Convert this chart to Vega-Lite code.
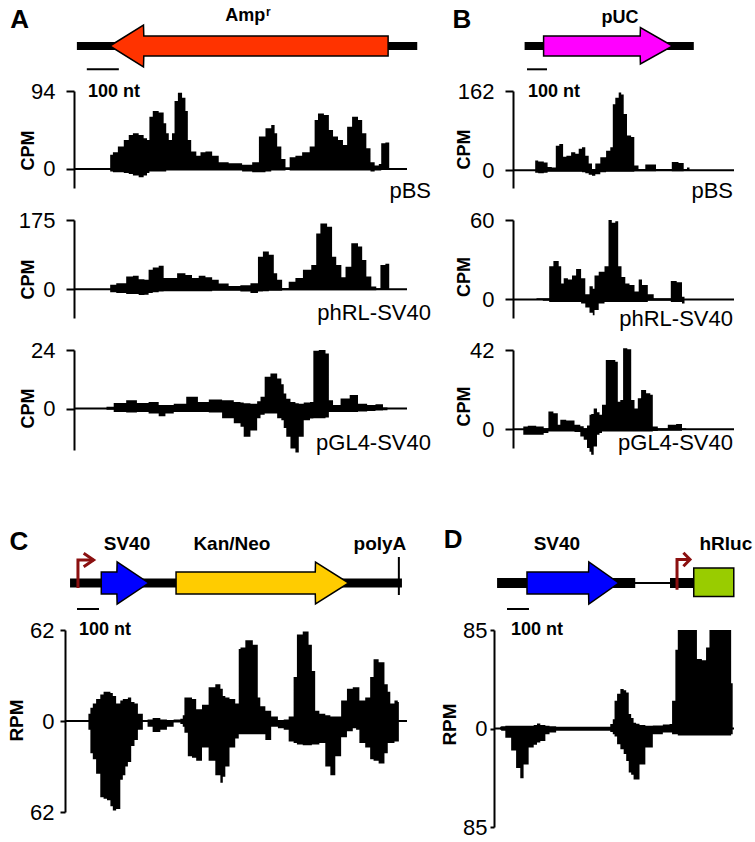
{
"$schema":"https://vega.github.io/schema/vega-lite/v6.json",
"padding":{"left":7,"top":0,"right":0,"bottom":0},
"background":"white",
"columns":2,
"spacing":{"row":32,"column":106},
"align":"each",
"bounds":"flush",
"config":{
 "view":{"stroke":null},
 "text":{"font":"Liberation Sans","color":"black"},
 "area":{"interpolate":"step"},
 "axis":{"grid":false,"domainColor":"black","domainWidth":2,"tickColor":"black","tickWidth":2,"tickSize":8,"labelPadding":11,"labelFont":"Liberation Sans","labelFontSize":22,"labelColor":"black","labelFlush":false,"labelOverlap":false,"titleFont":"Liberation Sans","titleFontSize":18,"titleFontWeight":"bold","titleColor":"black","titleAngle":270,"titleAlign":"center","titleBaseline":"middle"}
},
"datasets":{
 "diag":[
  {"p":"A","k":"bb","x":9,"x2":1072,"y":0},
  {"p":"A","k":"arrow","f":"Amp","x":112,"y":0,"y2":0},
  {"p":"A","k":"arrow","f":"Amp","x":217,"y":2.1,"y2":-2.1},
  {"p":"A","k":"arrow","f":"Amp","x":218,"y":1,"y2":-1},
  {"p":"A","k":"arrow","f":"Amp","x":981,"y":1,"y2":-1},
  {"p":"A","k":"gene","label":"Amp","x":535,"y":2.53},
  {"p":"A","k":"sup","label":"r","x":600,"y":3.05},
  {"p":"A","k":"letter","label":"A","x":-170,"y":1.85},
  {"p":"A","k":"bar","x":40,"x2":140,"y":-2.33},
  {"p":"A","k":"nt","label":"100 nt","x":44,"y":-5.07},
  {"p":"B","k":"bb","x":58,"x2":904,"y":0},
  {"p":"B","k":"arrow","f":"pUC","x":153,"y":1,"y2":-1},
  {"p":"B","k":"arrow","f":"pUC","x":636,"y":1,"y2":-1},
  {"p":"B","k":"arrow","f":"pUC","x":637,"y":1.85,"y2":-1.8},
  {"p":"B","k":"arrow","f":"pUC","x":798,"y":0,"y2":0},
  {"p":"B","k":"gene","label":"pUC","x":535,"y":2.27},
  {"p":"B","k":"letter","label":"B","x":-255,"y":1.85},
  {"p":"B","k":"bar","x":70,"x2":170,"y":-2.33},
  {"p":"B","k":"nt","label":"100 nt","x":75,"y":-5.07},
  {"p":"C","k":"bb","x":-18,"x2":1491,"y":0},
  {"p":"C","k":"arrow","f":"SV40","x":124,"y":1.1,"y2":-1.1},
  {"p":"C","k":"arrow","f":"SV40","x":195,"y":1.1,"y2":-1.1},
  {"p":"C","k":"arrow","f":"SV40","x":196,"y":2.1,"y2":-2.1},
  {"p":"C","k":"arrow","f":"SV40","x":339.5,"y":0,"y2":0},
  {"p":"C","k":"arrow","f":"Kan","x":464,"y":1.1,"y2":-1.1},
  {"p":"C","k":"arrow","f":"Kan","x":1097,"y":1.1,"y2":-1.1},
  {"p":"C","k":"arrow","f":"Kan","x":1098,"y":2.1,"y2":-2.1},
  {"p":"C","k":"arrow","f":"Kan","x":1249,"y":0,"y2":0},
  {"p":"C","k":"tick","x":1477,"y":2.6,"y2":-1.2},
  {"p":"C","k":"prom","g":"s","o":1,"x":18,"y":-0.5},
  {"p":"C","k":"prom","g":"s","o":2,"x":18,"y":2.3},
  {"p":"C","k":"prom","g":"s","o":3,"x":89,"y":2.3},
  {"p":"C","k":"prom","g":"h","o":1,"x":44,"y":2.97},
  {"p":"C","k":"prom","g":"h","o":2,"x":89,"y":2.3},
  {"p":"C","k":"prom","g":"h","o":3,"x":44,"y":1.63},
  {"p":"C","k":"gene","label":"SV40","x":241,"y":3.3},
  {"p":"C","k":"gene","label":"Kan/Neo","x":718,"y":3.3},
  {"p":"C","k":"gene","label":"polyA","x":1391,"y":3.3},
  {"p":"C","k":"letter","label":"C","x":-250,"y":3.3},
  {"p":"C","k":"bar","x":13.6,"x2":113.6,"y":-2.6},
  {"p":"C","k":"nt","label":"100 nt","x":23,"y":-5.2},
  {"p":"D","k":"bb","x":14,"x2":642,"y":0},
  {"p":"D","k":"bb","x":800,"x2":908,"y":0},
  {"p":"D","k":"thin","x":641,"x2":801,"y":0},
  {"p":"D","k":"arrow","f":"SV40","x":150,"y":1.1,"y2":-1.1},
  {"p":"D","k":"arrow","f":"SV40","x":430,"y":1.1,"y2":-1.1},
  {"p":"D","k":"arrow","f":"SV40","x":431,"y":2.1,"y2":-2.1},
  {"p":"D","k":"arrow","f":"SV40","x":567,"y":0,"y2":0},
  {"p":"D","k":"box","x":908,"x2":1090,"y":1.5,"y2":-1.35},
  {"p":"D","k":"prom","g":"s","o":1,"x":832,"y":-0.67},
  {"p":"D","k":"prom","g":"s","o":2,"x":832,"y":2.35},
  {"p":"D","k":"prom","g":"s","o":3,"x":891,"y":2.35},
  {"p":"D","k":"prom","g":"h","o":1,"x":861,"y":3.02},
  {"p":"D","k":"prom","g":"h","o":2,"x":891,"y":2.35},
  {"p":"D","k":"prom","g":"h","o":3,"x":861,"y":1.68},
  {"p":"D","k":"gene","label":"SV40","x":286,"y":3.33},
  {"p":"D","k":"gene","label":"hRluc","x":1054,"y":3.33},
  {"p":"D","k":"letter","label":"D","x":-186,"y":3.5},
  {"p":"D","k":"bar","x":59,"x2":159,"y":-2.6},
  {"p":"D","k":"nt","label":"100 nt","x":77,"y":-5.2}
 ],
 "tz":[
  {"t":"A1","x":0,"x2":1040,"y":0},{"t":"A2","x":0,"x2":1040,"y":0},{"t":"A3","x":0,"x2":1040,"y":0},
  {"t":"B1","x":0,"x2":1105,"y":0},{"t":"B2","x":0,"x2":1105,"y":0},{"t":"B3","x":0,"x2":1105,"y":0},
  {"t":"C","x":-41,"x2":1514,"y":0},{"t":"D","x":0,"x2":1091,"y":0}
 ],
 "tl":[
  {"t":"A1","label":"pBS","x":1115,"y":-34.5},
  {"t":"A2","label":"phRL-SV40","x":1115,"y":-76.9},
  {"t":"A3","label":"pGL4-SV40","x":1115,"y":-17},
  {"t":"B1","label":"pBS","x":1100,"y":-55.4},
  {"t":"B2","label":"phRL-SV40","x":1100,"y":-20},
  {"t":"B3","label":"pGL4-SV40","x":1100,"y":-10.8}
 ],
 "cov":[
  {"t":"A1","x":112,"y":0,"m":0},{"t":"A1","x":114,"y":17,"m":-3},{"t":"A1","x":129,"y":20,"m":-4},{"t":"A1","x":145,"y":27,"m":-4},{"t":"A1","x":166,"y":35,"m":-5},{"t":"A1","x":176,"y":41,"m":-6},{"t":"A1","x":192,"y":43,"m":-8},{"t":"A1","x":212,"y":41,"m":-10},{"t":"A1","x":223,"y":37,"m":-8},{"t":"A1","x":233,"y":35,"m":-5},{"t":"A1","x":238,"y":63,"m":-3},{"t":"A1","x":254,"y":70,"m":-3},{"t":"A1","x":275,"y":68,"m":-3},{"t":"A1","x":285,"y":55,"m":-3},{"t":"A1","x":291,"y":43,"m":-2},{"t":"A1","x":301,"y":35,"m":-2},{"t":"A1","x":311,"y":43,"m":-2},{"t":"A1","x":317,"y":82,"m":-2},{"t":"A1","x":332,"y":92,"m":-2},{"t":"A1","x":343,"y":86,"m":-2},{"t":"A1","x":353,"y":70,"m":-2},{"t":"A1","x":358,"y":35,"m":-2},{"t":"A1","x":374,"y":21,"m":-2},{"t":"A1","x":390,"y":16,"m":-2},{"t":"A1","x":400,"y":20,"m":-2},{"t":"A1","x":421,"y":21,"m":-2},{"t":"A1","x":442,"y":16,"m":-2},{"t":"A1","x":462,"y":8,"m":-2},{"t":"A1","x":504,"y":7,"m":-2},{"t":"A1","x":546,"y":5,"m":-3},{"t":"A1","x":567,"y":8,"m":-4},{"t":"A1","x":588,"y":39,"m":-4},{"t":"A1","x":608,"y":49,"m":-3},{"t":"A1","x":624,"y":53,"m":-2},{"t":"A1","x":629,"y":43,"m":-2},{"t":"A1","x":640,"y":27,"m":-2},{"t":"A1","x":655,"y":12,"m":-2},{"t":"A1","x":666,"y":2,"m":-1},{"t":"A1","x":681,"y":14,"m":-2},{"t":"A1","x":702,"y":16,"m":-2},{"t":"A1","x":723,"y":20,"m":-2},{"t":"A1","x":749,"y":27,"m":-2},{"t":"A1","x":754,"y":59,"m":-2},{"t":"A1","x":770,"y":67,"m":-2},{"t":"A1","x":791,"y":65,"m":-2},{"t":"A1","x":801,"y":47,"m":-2},{"t":"A1","x":817,"y":39,"m":-2},{"t":"A1","x":832,"y":35,"m":-2},{"t":"A1","x":848,"y":29,"m":-2},{"t":"A1","x":858,"y":51,"m":-2},{"t":"A1","x":879,"y":63,"m":-2},{"t":"A1","x":895,"y":59,"m":-2},{"t":"A1","x":905,"y":43,"m":-2},{"t":"A1","x":921,"y":25,"m":-2},{"t":"A1","x":931,"y":8,"m":-3},{"t":"A1","x":947,"y":4,"m":-2},{"t":"A1","x":957,"y":6,"m":-2},{"t":"A1","x":962,"y":31,"m":-1},{"t":"A1","x":983,"y":32,"m":-1},{"t":"A1","x":986,"y":0,"m":0},
  {"t":"B1","x":110,"y":0,"m":0},{"t":"B1","x":112,"y":20,"m":-5},{"t":"B1","x":140,"y":18,"m":-6},{"t":"B1","x":168,"y":16,"m":-5},{"t":"B1","x":178,"y":7,"m":-3},{"t":"B1","x":210,"y":6,"m":-3},{"t":"B1","x":218,"y":50,"m":-3},{"t":"B1","x":245,"y":54,"m":-3},{"t":"B1","x":256,"y":28,"m":-3},{"t":"B1","x":278,"y":30,"m":-3},{"t":"B1","x":303,"y":37,"m":-3},{"t":"B1","x":320,"y":34,"m":-3},{"t":"B1","x":337,"y":44,"m":-3},{"t":"B1","x":353,"y":47,"m":-4},{"t":"B1","x":370,"y":30,"m":-6},{"t":"B1","x":387,"y":14,"m":-9},{"t":"B1","x":403,"y":3,"m":-11},{"t":"B1","x":420,"y":14,"m":-8},{"t":"B1","x":453,"y":27,"m":-4},{"t":"B1","x":478,"y":40,"m":-3},{"t":"B1","x":495,"y":47,"m":-3},{"t":"B1","x":503,"y":135,"m":-3},{"t":"B1","x":520,"y":148,"m":-3},{"t":"B1","x":537,"y":159,"m":-3},{"t":"B1","x":545,"y":155,"m":-3},{"t":"B1","x":562,"y":115,"m":-3},{"t":"B1","x":578,"y":71,"m":-3},{"t":"B1","x":603,"y":68,"m":-3},{"t":"B1","x":610,"y":10,"m":-2},{"t":"B1","x":645,"y":3,"m":-2},{"t":"B1","x":678,"y":12,"m":-2},{"t":"B1","x":710,"y":12,"m":-2},{"t":"B1","x":720,"y":3,"m":-1},{"t":"B1","x":778,"y":3,"m":-1},{"t":"B1","x":810,"y":17,"m":-2},{"t":"B1","x":845,"y":15,"m":-2},{"t":"B1","x":862,"y":3,"m":-1},{"t":"B1","x":878,"y":6,"m":-1},{"t":"B1","x":887,"y":0,"m":0},
  {"t":"A2","x":112,"y":0,"m":0},{"t":"A2","x":114,"y":11,"m":-8},{"t":"A2","x":150,"y":15,"m":-10},{"t":"A2","x":176,"y":32,"m":-12},{"t":"A2","x":192,"y":34,"m":-12},{"t":"A2","x":212,"y":25,"m":-15},{"t":"A2","x":228,"y":24,"m":-14},{"t":"A2","x":238,"y":49,"m":-10},{"t":"A2","x":254,"y":55,"m":-8},{"t":"A2","x":275,"y":59,"m":-6},{"t":"A2","x":285,"y":28,"m":-5},{"t":"A2","x":306,"y":28,"m":-5},{"t":"A2","x":338,"y":40,"m":-5},{"t":"A2","x":358,"y":36,"m":-5},{"t":"A2","x":379,"y":28,"m":-5},{"t":"A2","x":400,"y":34,"m":-5},{"t":"A2","x":421,"y":30,"m":-5},{"t":"A2","x":442,"y":24,"m":-4},{"t":"A2","x":462,"y":14,"m":-4},{"t":"A2","x":504,"y":8,"m":-4},{"t":"A2","x":535,"y":10,"m":-6},{"t":"A2","x":567,"y":15,"m":-10},{"t":"A2","x":582,"y":82,"m":-6},{"t":"A2","x":598,"y":95,"m":-5},{"t":"A2","x":619,"y":87,"m":-4},{"t":"A2","x":629,"y":40,"m":-4},{"t":"A2","x":640,"y":24,"m":-4},{"t":"A2","x":660,"y":3,"m":-3},{"t":"A2","x":681,"y":19,"m":-3},{"t":"A2","x":702,"y":28,"m":-3},{"t":"A2","x":728,"y":49,"m":-3},{"t":"A2","x":754,"y":61,"m":-3},{"t":"A2","x":759,"y":141,"m":-3},{"t":"A2","x":780,"y":166,"m":-3},{"t":"A2","x":801,"y":158,"m":-3},{"t":"A2","x":811,"y":82,"m":-3},{"t":"A2","x":827,"y":61,"m":-3},{"t":"A2","x":843,"y":30,"m":-3},{"t":"A2","x":853,"y":57,"m":-3},{"t":"A2","x":879,"y":116,"m":-3},{"t":"A2","x":895,"y":108,"m":-3},{"t":"A2","x":905,"y":74,"m":-3},{"t":"A2","x":921,"y":32,"m":-3},{"t":"A2","x":936,"y":7,"m":-3},{"t":"A2","x":952,"y":2,"m":-2},{"t":"A2","x":962,"y":61,"m":-2},{"t":"A2","x":983,"y":64,"m":-2},{"t":"A2","x":986,"y":0,"m":0},
  {"t":"B2","x":115,"y":0,"m":0},{"t":"B2","x":120,"y":1,"m":0},{"t":"B2","x":178,"y":1,"m":-1},{"t":"B2","x":184,"y":25,"m":-2},{"t":"B2","x":220,"y":29,"m":-2},{"t":"B2","x":237,"y":25,"m":-2},{"t":"B2","x":245,"y":12,"m":-2},{"t":"B2","x":262,"y":16,"m":-2},{"t":"B2","x":287,"y":15,"m":-2},{"t":"B2","x":303,"y":18,"m":-2},{"t":"B2","x":328,"y":23,"m":-2},{"t":"B2","x":353,"y":16,"m":-3},{"t":"B2","x":370,"y":4,"m":-6},{"t":"B2","x":395,"y":10,"m":-10},{"t":"B2","x":403,"y":8,"m":-12},{"t":"B2","x":412,"y":18,"m":-8},{"t":"B2","x":445,"y":21,"m":-3},{"t":"B2","x":470,"y":25,"m":-2},{"t":"B2","x":485,"y":60,"m":-2},{"t":"B2","x":503,"y":58,"m":-2},{"t":"B2","x":520,"y":59,"m":-2},{"t":"B2","x":532,"y":25,"m":-2},{"t":"B2","x":553,"y":17,"m":-2},{"t":"B2","x":570,"y":12,"m":-2},{"t":"B2","x":595,"y":11,"m":-2},{"t":"B2","x":620,"y":6,"m":-2},{"t":"B2","x":637,"y":15,"m":-2},{"t":"B2","x":653,"y":11,"m":-2},{"t":"B2","x":695,"y":4,"m":-1},{"t":"B2","x":712,"y":1,"m":-1},{"t":"B2","x":778,"y":1,"m":-1},{"t":"B2","x":800,"y":14,"m":-2},{"t":"B2","x":837,"y":13,"m":-2},{"t":"B2","x":853,"y":2,"m":-3},{"t":"B2","x":862,"y":0,"m":0},
  {"t":"A3","x":100,"y":0,"m":0},{"t":"A3","x":103,"y":0.7,"m":-0.5},{"t":"A3","x":145,"y":2.3,"m":-1.4},{"t":"A3","x":181,"y":3.4,"m":-1.6},{"t":"A3","x":212,"y":2.3,"m":-1.4},{"t":"A3","x":254,"y":2.7,"m":-2},{"t":"A3","x":275,"y":1.5,"m":-3.2},{"t":"A3","x":296,"y":1.4,"m":-2},{"t":"A3","x":327,"y":2,"m":-1.4},{"t":"A3","x":374,"y":4.8,"m":-1.4},{"t":"A3","x":400,"y":2.7,"m":-1.4},{"t":"A3","x":442,"y":3.7,"m":-1.6},{"t":"A3","x":483,"y":3.4,"m":-4},{"t":"A3","x":515,"y":2.7,"m":-6},{"t":"A3","x":525,"y":2.5,"m":-7.5},{"t":"A3","x":535,"y":2.2,"m":-11.6},{"t":"A3","x":567,"y":2,"m":-9},{"t":"A3","x":577,"y":3,"m":-4},{"t":"A3","x":588,"y":4.8,"m":-2.5},{"t":"A3","x":603,"y":13,"m":-2},{"t":"A3","x":624,"y":14.4,"m":-2},{"t":"A3","x":645,"y":12.3,"m":-4},{"t":"A3","x":650,"y":10,"m":-4.8},{"t":"A3","x":660,"y":6.2,"m":-8},{"t":"A3","x":666,"y":4,"m":-11.6},{"t":"A3","x":686,"y":2.7,"m":-16.4},{"t":"A3","x":697,"y":2.2,"m":-18},{"t":"A3","x":707,"y":2,"m":-11.6},{"t":"A3","x":728,"y":2.5,"m":-4.8},{"t":"A3","x":746,"y":2.7,"m":-4.1},{"t":"A3","x":749,"y":23.7,"m":-4},{"t":"A3","x":780,"y":24,"m":-4},{"t":"A3","x":791,"y":22.6,"m":-3.7},{"t":"A3","x":801,"y":3.4,"m":-1.4},{"t":"A3","x":817,"y":1.4,"m":-1.4},{"t":"A3","x":848,"y":4.1,"m":-1.4},{"t":"A3","x":874,"y":5.5,"m":-1.4},{"t":"A3","x":900,"y":2,"m":-1.2},{"t":"A3","x":931,"y":1.4,"m":-1},{"t":"A3","x":952,"y":1.8,"m":-0.8},{"t":"A3","x":978,"y":0.4,"m":-0.7},{"t":"A3","x":980,"y":0,"m":0},
  {"t":"B3","x":50,"y":0,"m":0},{"t":"B3","x":53,"y":1.4,"m":-3},{"t":"B3","x":95,"y":1.8,"m":-3},{"t":"B3","x":137,"y":1.4,"m":-3},{"t":"B3","x":170,"y":0.5,"m":-2},{"t":"B3","x":184,"y":9.4,"m":-1.2},{"t":"B3","x":220,"y":8.5,"m":-1.2},{"t":"B3","x":228,"y":2.3,"m":-1.2},{"t":"B3","x":245,"y":5,"m":-1.2},{"t":"B3","x":287,"y":4.6,"m":-1.2},{"t":"B3","x":328,"y":2.3,"m":-1.5},{"t":"B3","x":345,"y":1.5,"m":-3.9},{"t":"B3","x":362,"y":0.5,"m":-5.6},{"t":"B3","x":378,"y":2,"m":-10},{"t":"B3","x":387,"y":7.6,"m":-12},{"t":"B3","x":395,"y":8,"m":-13.6},{"t":"B3","x":412,"y":11,"m":-9.2},{"t":"B3","x":428,"y":9,"m":-3},{"t":"B3","x":437,"y":7.6,"m":-2},{"t":"B3","x":453,"y":12.9,"m":-1.2},{"t":"B3","x":475,"y":36.7,"m":-1.2},{"t":"B3","x":503,"y":36.7,"m":-1.2},{"t":"B3","x":520,"y":35.8,"m":-1.2},{"t":"B3","x":528,"y":14.6,"m":-1.2},{"t":"B3","x":545,"y":15.5,"m":-1.2},{"t":"B3","x":556,"y":42.9,"m":-1.2},{"t":"B3","x":587,"y":42.4,"m":-1.2},{"t":"B3","x":595,"y":15.5,"m":-1.2},{"t":"B3","x":620,"y":11,"m":-1.2},{"t":"B3","x":628,"y":16.4,"m":-1.2},{"t":"B3","x":653,"y":20.8,"m":-1.2},{"t":"B3","x":678,"y":19,"m":-1.2},{"t":"B3","x":695,"y":18.2,"m":-1.2},{"t":"B3","x":703,"y":1.4,"m":-1},{"t":"B3","x":745,"y":0.5,"m":-0.8},{"t":"B3","x":803,"y":2.3,"m":-0.8},{"t":"B3","x":828,"y":2.8,"m":-0.8},{"t":"B3","x":862,"y":0.5,"m":-0.5},{"t":"B3","x":870,"y":0,"m":0},
  {"t":"C","x":64,"y":0,"m":0},{"t":"C","x":67,"y":5,"m":-6},{"t":"C","x":82,"y":9,"m":-22},{"t":"C","x":89,"y":12,"m":-26},{"t":"C","x":112,"y":15,"m":-36},{"t":"C","x":127,"y":18,"m":-52},{"t":"C","x":142,"y":20,"m":-53},{"t":"C","x":158,"y":20,"m":-54},{"t":"C","x":173,"y":19,"m":-58},{"t":"C","x":180,"y":17,"m":-61},{"t":"C","x":203,"y":12,"m":-60},{"t":"C","x":218,"y":14,"m":-40},{"t":"C","x":226,"y":15,"m":-37},{"t":"C","x":241,"y":15,"m":-31},{"t":"C","x":249,"y":16,"m":-28},{"t":"C","x":271,"y":13,"m":-17},{"t":"C","x":279,"y":12,"m":-13},{"t":"C","x":302,"y":5,"m":-6},{"t":"C","x":324,"y":0,"m":0},{"t":"C","x":345,"y":1,"m":-4},{"t":"C","x":370,"y":2,"m":-7.5},{"t":"C","x":415,"y":1,"m":-6},{"t":"C","x":430,"y":0,"m":-4},{"t":"C","x":476,"y":1,"m":-1},{"t":"C","x":491,"y":1.6,"m":-2},{"t":"C","x":498,"y":4,"m":-4},{"t":"C","x":506,"y":16,"m":-8},{"t":"C","x":529,"y":16,"m":-24},{"t":"C","x":544,"y":15,"m":-25},{"t":"C","x":567,"y":8,"m":-27},{"t":"C","x":597,"y":11,"m":-18},{"t":"C","x":627,"y":23,"m":-27},{"t":"C","x":658,"y":25,"m":-37},{"t":"C","x":673,"y":22,"m":-42},{"t":"C","x":680,"y":17,"m":-38},{"t":"C","x":696,"y":16,"m":-31},{"t":"C","x":718,"y":15,"m":-18},{"t":"C","x":748,"y":12,"m":-12},{"t":"C","x":750,"y":49,"m":-9},{"t":"C","x":764,"y":50,"m":-9},{"t":"C","x":794,"y":55,"m":-9},{"t":"C","x":832,"y":52,"m":-9},{"t":"C","x":839,"y":16,"m":-9},{"t":"C","x":855,"y":10,"m":-9},{"t":"C","x":885,"y":7,"m":-13},{"t":"C","x":908,"y":3,"m":-4},{"t":"C","x":946,"y":0.5,"m":-5},{"t":"C","x":961,"y":1,"m":-6},{"t":"C","x":991,"y":3,"m":-14},{"t":"C","x":1006,"y":30,"m":-15},{"t":"C","x":1021,"y":59,"m":-16},{"t":"C","x":1059,"y":61,"m":-16.5},{"t":"C","x":1074,"y":52,"m":-16.5},{"t":"C","x":1089,"y":34,"m":-16},{"t":"C","x":1104,"y":7,"m":-16},{"t":"C","x":1127,"y":5,"m":-15},{"t":"C","x":1158,"y":4,"m":-31},{"t":"C","x":1173,"y":3,"m":-37},{"t":"C","x":1203,"y":3,"m":-24},{"t":"C","x":1226,"y":14,"m":-11},{"t":"C","x":1256,"y":22,"m":-7},{"t":"C","x":1279,"y":23,"m":-5},{"t":"C","x":1286,"y":23,"m":-6},{"t":"C","x":1309,"y":14,"m":-15},{"t":"C","x":1339,"y":16,"m":-18},{"t":"C","x":1354,"y":30,"m":-26},{"t":"C","x":1370,"y":42,"m":-27},{"t":"C","x":1400,"y":40,"m":-29},{"t":"C","x":1423,"y":25,"m":-22},{"t":"C","x":1430,"y":20,"m":-15},{"t":"C","x":1446,"y":12,"m":-15},{"t":"C","x":1468,"y":14,"m":-14},{"t":"C","x":1476,"y":13,"m":-14},{"t":"C","x":1478,"y":0,"m":0},
  {"t":"D","x":27,"y":0,"m":0},{"t":"D","x":29,"y":1.5,"m":-1},{"t":"D","x":36,"y":2,"m":-2},{"t":"D","x":67,"y":2.3,"m":-8},{"t":"D","x":89,"y":2.3,"m":-19},{"t":"D","x":112,"y":2.3,"m":-34},{"t":"D","x":127,"y":2.3,"m":-43},{"t":"D","x":142,"y":2.3,"m":-31},{"t":"D","x":173,"y":2.3,"m":-16.5},{"t":"D","x":188,"y":3,"m":-14},{"t":"D","x":203,"y":4.4,"m":-12},{"t":"D","x":218,"y":3,"m":-10.7},{"t":"D","x":249,"y":2.3,"m":-5},{"t":"D","x":256,"y":2,"m":-3.5},{"t":"D","x":309,"y":1.5,"m":-2},{"t":"D","x":521,"y":1.5,"m":-2},{"t":"D","x":536,"y":3.8,"m":-3},{"t":"D","x":544,"y":8,"m":-5},{"t":"D","x":552,"y":24,"m":-7},{"t":"D","x":567,"y":30,"m":-13.6},{"t":"D","x":582,"y":34,"m":-18},{"t":"D","x":597,"y":33,"m":-22},{"t":"D","x":605,"y":31,"m":-28},{"t":"D","x":620,"y":12.5,"m":-38},{"t":"D","x":627,"y":9,"m":-40},{"t":"D","x":642,"y":5,"m":-44},{"t":"D","x":650,"y":4,"m":-44},{"t":"D","x":673,"y":3,"m":-31},{"t":"D","x":703,"y":2.3,"m":-16.5},{"t":"D","x":741,"y":2.5,"m":-5},{"t":"D","x":794,"y":3.5,"m":-3.5},{"t":"D","x":802,"y":3.8,"m":-3.5},{"t":"D","x":817,"y":24,"m":-5},{"t":"D","x":832,"y":68,"m":-5},{"t":"D","x":839,"y":85,"m":-6},{"t":"D","x":915,"y":85,"m":-6},{"t":"D","x":930,"y":60,"m":-6},{"t":"D","x":960,"y":59,"m":-6},{"t":"D","x":968,"y":70,"m":-6},{"t":"D","x":991,"y":85,"m":-6},{"t":"D","x":1074,"y":85,"m":-6},{"t":"D","x":1082,"y":39,"m":-5},{"t":"D","x":1088,"y":0,"m":0}
 ]
},
"concat":[
 {"width":333,"height":59,"data":{"name":"diag"},"transform":[{"filter":"datum.p=='A'"}],
  "encoding":{"x":{"field":"x","type":"quantitative","scale":{"domain":[0,1040],"nice":false,"zero":false},"axis":null},"y":{"field":"y","type":"quantitative","scale":{"domain":[-1.3,4.6],"nice":false,"zero":false},"axis":null}},
  "layer":[
   {"transform":[{"filter":"datum.k=='bb'"}],"mark":{"type":"rule","color":"black","strokeWidth":8},"encoding":{"x2":{"field":"x2"}}},
   {"transform":[{"filter":"datum.k=='arrow'"}],"mark":{"type":"area","interpolate":"linear","stroke":"black","strokeWidth":1.5,"opacity":1},"encoding":{"y2":{"field":"y2"},"color":{"field":"f","type":"nominal","scale":{"domain":["Amp","pUC","SV40","Kan"],"range":["#FF3300","#FF00FF","#0000FF","#FFCC00"]},"legend":null}}},
   {"transform":[{"filter":"datum.k=='bar'"}],"mark":{"type":"rule","color":"black","strokeWidth":2},"encoding":{"x2":{"field":"x2"}}},
   {"transform":[{"filter":"datum.k=='gene'"}],"mark":{"type":"text","fontSize":18,"fontWeight":"bold","align":"center","baseline":"alphabetic"},"encoding":{"text":{"field":"label"}}},
   {"transform":[{"filter":"datum.k=='sup'"}],"mark":{"type":"text","fontSize":12,"fontWeight":"bold","align":"left","baseline":"alphabetic"},"encoding":{"text":{"field":"label"}}},
   {"transform":[{"filter":"datum.k=='letter'"}],"mark":{"type":"text","fontSize":26,"fontWeight":"bold","align":"center","baseline":"alphabetic"},"encoding":{"text":{"field":"label"}}},
   {"transform":[{"filter":"datum.k=='nt'"}],"mark":{"type":"text","fontSize":18,"fontWeight":"bold","align":"left","baseline":"alphabetic"},"encoding":{"text":{"field":"label"}}}
  ]},
 {"width":221,"height":59,"data":{"name":"diag"},"transform":[{"filter":"datum.p=='B'"}],
  "encoding":{"x":{"field":"x","type":"quantitative","scale":{"domain":[0,1105],"nice":false,"zero":false},"axis":null},"y":{"field":"y","type":"quantitative","scale":{"domain":[-1.3,4.6],"nice":false,"zero":false},"axis":null}},
  "layer":[
   {"transform":[{"filter":"datum.k=='bb'"}],"mark":{"type":"rule","color":"black","strokeWidth":8},"encoding":{"x2":{"field":"x2"}}},
   {"transform":[{"filter":"datum.k=='arrow'"}],"mark":{"type":"area","interpolate":"linear","stroke":"black","strokeWidth":1.5,"opacity":1},"encoding":{"y2":{"field":"y2"},"color":{"field":"f","type":"nominal","scale":{"domain":["Amp","pUC","SV40","Kan"],"range":["#FF3300","#FF00FF","#0000FF","#FFCC00"]},"legend":null}}},
   {"transform":[{"filter":"datum.k=='bar'"}],"mark":{"type":"rule","color":"black","strokeWidth":2},"encoding":{"x2":{"field":"x2"}}},
   {"transform":[{"filter":"datum.k=='gene'"}],"mark":{"type":"text","fontSize":18,"fontWeight":"bold","align":"center","baseline":"alphabetic"},"encoding":{"text":{"field":"label"}}},
   {"transform":[{"filter":"datum.k=='letter'"}],"mark":{"type":"text","fontSize":26,"fontWeight":"bold","align":"center","baseline":"alphabetic"},"encoding":{"text":{"field":"label"}}},
   {"transform":[{"filter":"datum.k=='nt'"}],"mark":{"type":"text","fontSize":18,"fontWeight":"bold","align":"left","baseline":"alphabetic"},"encoding":{"text":{"field":"label"}}}
  ]},
 {"width":333,"height":97,
  "encoding":{"x":{"field":"x","type":"quantitative","scale":{"domain":[0,1040],"nice":false,"zero":false},"axis":null},"y":{"field":"y","type":"quantitative","scale":{"domain":[-23,94],"nice":false,"zero":false},"axis":{"title":"CPM","values":[0,94],"titleX":-45.5,"titleY":59}}},
  "layer":[
   {"data":{"name":"cov"},"transform":[{"filter":"datum.t=='A1'"}],"mark":{"type":"area","color":"black"},"encoding":{"y2":{"field":"m"}}},
   {"data":{"name":"tz"},"transform":[{"filter":"datum.t=='A1'"}],"mark":{"type":"rule","color":"black","strokeWidth":2},"encoding":{"x2":{"field":"x2"}}},
   {"data":{"name":"tl"},"transform":[{"filter":"datum.t=='A1'"}],"mark":{"type":"text","align":"right","baseline":"alphabetic","fontSize":22},"encoding":{"text":{"field":"label"}}}
  ]},
 {"width":221,"height":97,
  "encoding":{"x":{"field":"x","type":"quantitative","scale":{"domain":[0,1105],"nice":false,"zero":false},"axis":null},"y":{"field":"y","type":"quantitative","scale":{"domain":[-36,162],"nice":false,"zero":false},"axis":{"title":"CPM","values":[0,162],"titleX":-48.5,"titleY":58}}},
  "layer":[
   {"data":{"name":"cov"},"transform":[{"filter":"datum.t=='B1'"}],"mark":{"type":"area","color":"black"},"encoding":{"y2":{"field":"m"}}},
   {"data":{"name":"tz"},"transform":[{"filter":"datum.t=='B1'"}],"mark":{"type":"rule","color":"black","strokeWidth":2},"encoding":{"x2":{"field":"x2"}}},
   {"data":{"name":"tl"},"transform":[{"filter":"datum.t=='B1'"}],"mark":{"type":"text","align":"right","baseline":"alphabetic","fontSize":22},"encoding":{"text":{"field":"label"}}}
  ]},
 {"width":333,"height":98,
  "encoding":{"x":{"field":"x","type":"quantitative","scale":{"domain":[0,1040],"nice":false,"zero":false},"axis":null},"y":{"field":"y","type":"quantitative","scale":{"domain":[-73,175],"nice":false,"zero":false},"axis":{"title":"CPM","values":[0,175],"titleX":-45.5,"titleY":59}}},
  "layer":[
   {"data":{"name":"cov"},"transform":[{"filter":"datum.t=='A2'"}],"mark":{"type":"area","color":"black"},"encoding":{"y2":{"field":"m"}}},
   {"data":{"name":"tz"},"transform":[{"filter":"datum.t=='A2'"}],"mark":{"type":"rule","color":"black","strokeWidth":2},"encoding":{"x2":{"field":"x2"}}},
   {"data":{"name":"tl"},"transform":[{"filter":"datum.t=='A2'"}],"mark":{"type":"text","align":"right","baseline":"alphabetic","fontSize":22},"encoding":{"text":{"field":"label"}}}
  ]},
 {"width":221,"height":98,
  "encoding":{"x":{"field":"x","type":"quantitative","scale":{"domain":[0,1105],"nice":false,"zero":false},"axis":null},"y":{"field":"y","type":"quantitative","scale":{"domain":[-14,60],"nice":false,"zero":false},"axis":{"title":"CPM","values":[0,60],"titleX":-48.5,"titleY":56.5}}},
  "layer":[
   {"data":{"name":"cov"},"transform":[{"filter":"datum.t=='B2'"}],"mark":{"type":"area","color":"black"},"encoding":{"y2":{"field":"m"}}},
   {"data":{"name":"tz"},"transform":[{"filter":"datum.t=='B2'"}],"mark":{"type":"rule","color":"black","strokeWidth":2},"encoding":{"x2":{"field":"x2"}}},
   {"data":{"name":"tl"},"transform":[{"filter":"datum.t=='B2'"}],"mark":{"type":"text","align":"right","baseline":"alphabetic","fontSize":22},"encoding":{"text":{"field":"label"}}}
  ]},
 {"width":333,"height":100,
  "encoding":{"x":{"field":"x","type":"quantitative","scale":{"domain":[0,1040],"nice":false,"zero":false},"axis":null},"y":{"field":"y","type":"quantitative","scale":{"domain":[-17,24],"nice":false,"zero":false},"axis":{"title":"CPM","values":[0,24],"titleX":-46,"titleY":58}}},
  "layer":[
   {"data":{"name":"cov"},"transform":[{"filter":"datum.t=='A3'"}],"mark":{"type":"area","color":"black"},"encoding":{"y2":{"field":"m"}}},
   {"data":{"name":"tz"},"transform":[{"filter":"datum.t=='A3'"}],"mark":{"type":"rule","color":"black","strokeWidth":2},"encoding":{"x2":{"field":"x2"}}},
   {"data":{"name":"tl"},"transform":[{"filter":"datum.t=='A3'"}],"mark":{"type":"text","align":"right","baseline":"alphabetic","fontSize":22},"encoding":{"text":{"field":"label"}}}
  ]},
 {"width":221,"height":98,
  "encoding":{"x":{"field":"x","type":"quantitative","scale":{"domain":[0,1105],"nice":false,"zero":false},"axis":null},"y":{"field":"y","type":"quantitative","scale":{"domain":[-10,42],"nice":false,"zero":false},"axis":{"title":"CPM","values":[0,42],"titleX":-48.5,"titleY":56}}},
  "layer":[
   {"data":{"name":"cov"},"transform":[{"filter":"datum.t=='B3'"}],"mark":{"type":"area","color":"black"},"encoding":{"y2":{"field":"m"}}},
   {"data":{"name":"tz"},"transform":[{"filter":"datum.t=='B3'"}],"mark":{"type":"rule","color":"black","strokeWidth":2},"encoding":{"x2":{"field":"x2"}}},
   {"data":{"name":"tl"},"transform":[{"filter":"datum.t=='B3'"}],"mark":{"type":"text","align":"right","baseline":"alphabetic","fontSize":22},"encoding":{"text":{"field":"label"}}}
  ]},
 {"width":333,"height":116,"data":{"name":"diag"},"transform":[{"filter":"datum.p=='C'"}],
  "encoding":{"x":{"field":"x","type":"quantitative","scale":{"domain":[0,1514],"nice":false,"zero":false},"axis":null},"y":{"field":"y","type":"quantitative","scale":{"domain":[-1.5,10.1],"nice":false,"zero":false},"axis":null}},
  "layer":[
   {"transform":[{"filter":"datum.k=='bb'"}],"mark":{"type":"rule","color":"black","strokeWidth":9},"encoding":{"x2":{"field":"x2"}}},
   {"transform":[{"filter":"datum.k=='tick'"}],"mark":{"type":"rule","color":"black","strokeWidth":2},"encoding":{"y2":{"field":"y2"}}},
   {"transform":[{"filter":"datum.k=='arrow'"}],"mark":{"type":"area","interpolate":"linear","stroke":"black","strokeWidth":1.5,"opacity":1},"encoding":{"y2":{"field":"y2"},"color":{"field":"f","type":"nominal","scale":{"domain":["Amp","pUC","SV40","Kan"],"range":["#FF3300","#FF00FF","#0000FF","#FFCC00"]},"legend":null}}},
   {"transform":[{"filter":"datum.k=='prom'"}],"mark":{"type":"line","color":"#8B1010","strokeWidth":3,"strokeJoin":"miter"},"encoding":{"order":{"field":"o","type":"quantitative"},"detail":{"field":"g","type":"nominal"}}},
   {"transform":[{"filter":"datum.k=='bar'"}],"mark":{"type":"rule","color":"black","strokeWidth":2},"encoding":{"x2":{"field":"x2"}}},
   {"transform":[{"filter":"datum.k=='gene'"}],"mark":{"type":"text","fontSize":19,"fontWeight":"bold","align":"center","baseline":"alphabetic"},"encoding":{"text":{"field":"label"}}},
   {"transform":[{"filter":"datum.k=='letter'"}],"mark":{"type":"text","fontSize":26,"fontWeight":"bold","align":"center","baseline":"alphabetic"},"encoding":{"text":{"field":"label"}}},
   {"transform":[{"filter":"datum.k=='nt'"}],"mark":{"type":"text","fontSize":18,"fontWeight":"bold","align":"left","baseline":"alphabetic"},"encoding":{"text":{"field":"label"}}}
  ]},
 {"width":221,"height":116,"data":{"name":"diag"},"transform":[{"filter":"datum.p=='D'"}],
  "encoding":{"x":{"field":"x","type":"quantitative","scale":{"domain":[86.4,1091],"nice":false,"zero":false},"axis":null},"y":{"field":"y","type":"quantitative","scale":{"domain":[-1.5,10.1],"nice":false,"zero":false},"axis":null}},
  "layer":[
   {"transform":[{"filter":"datum.k=='thin'"}],"mark":{"type":"rule","color":"black","strokeWidth":2},"encoding":{"x2":{"field":"x2"}}},
   {"transform":[{"filter":"datum.k=='bb'"}],"mark":{"type":"rule","color":"black","strokeWidth":10},"encoding":{"x2":{"field":"x2"}}},
   {"transform":[{"filter":"datum.k=='arrow'"}],"mark":{"type":"area","interpolate":"linear","stroke":"black","strokeWidth":1.5,"opacity":1},"encoding":{"y2":{"field":"y2"},"color":{"field":"f","type":"nominal","scale":{"domain":["Amp","pUC","SV40","Kan"],"range":["#FF3300","#FF00FF","#0000FF","#FFCC00"]},"legend":null}}},
   {"transform":[{"filter":"datum.k=='box'"}],"mark":{"type":"rect","fill":"#99CC00","stroke":"black","strokeWidth":1.5},"encoding":{"x2":{"field":"x2"},"y2":{"field":"y2"}}},
   {"transform":[{"filter":"datum.k=='prom'"}],"mark":{"type":"line","color":"#8B1010","strokeWidth":3,"strokeJoin":"miter"},"encoding":{"order":{"field":"o","type":"quantitative"},"detail":{"field":"g","type":"nominal"}}},
   {"transform":[{"filter":"datum.k=='bar'"}],"mark":{"type":"rule","color":"black","strokeWidth":2},"encoding":{"x2":{"field":"x2"}}},
   {"transform":[{"filter":"datum.k=='gene'"}],"mark":{"type":"text","fontSize":19,"fontWeight":"bold","align":"center","baseline":"alphabetic"},"encoding":{"text":{"field":"label"}}},
   {"transform":[{"filter":"datum.k=='letter'"}],"mark":{"type":"text","fontSize":26,"fontWeight":"bold","align":"center","baseline":"alphabetic"},"encoding":{"text":{"field":"label"}}},
   {"transform":[{"filter":"datum.k=='nt'"}],"mark":{"type":"text","fontSize":18,"fontWeight":"bold","align":"left","baseline":"alphabetic"},"encoding":{"text":{"field":"label"}}}
  ]},
 {"width":333,"height":182,
  "encoding":{"x":{"field":"x","type":"quantitative","scale":{"domain":[0,1514],"nice":false,"zero":false},"axis":null},"y":{"field":"y","type":"quantitative","scale":{"domain":[-62,62],"nice":false,"zero":false},"axis":{"title":"RPM","values":[-62,0,62],"labelExpr":"'' + abs(datum.value)","offset":9,"tickSize":5,"labelPadding":6,"titleFontSize":19,"titleX":-48.5,"titleY":90}}},
  "layer":[
   {"data":{"name":"cov"},"transform":[{"filter":"datum.t=='C'"}],"mark":{"type":"area","color":"black"},"encoding":{"y2":{"field":"m"}}},
   {"data":{"name":"tz"},"transform":[{"filter":"datum.t=='C'"}],"mark":{"type":"rule","color":"black","strokeWidth":2},"encoding":{"x2":{"field":"x2"}}}
  ]},
 {"width":221,"height":197,
  "encoding":{"x":{"field":"x","type":"quantitative","scale":{"domain":[86.4,1091],"nice":false,"zero":false},"axis":null},"y":{"field":"y","type":"quantitative","scale":{"domain":[-85,85],"nice":false,"zero":false},"axis":{"title":"RPM","values":[-85,0,85],"labelExpr":"'' + abs(datum.value)","offset":19,"tickSize":4,"labelPadding":3,"titleFontSize":19,"titleX":-44.5,"titleY":94}}},
  "layer":[
   {"data":{"name":"cov"},"transform":[{"filter":"datum.t=='D'"}],"mark":{"type":"area","color":"black"},"encoding":{"y2":{"field":"m"}}},
   {"data":{"name":"tz"},"transform":[{"filter":"datum.t=='D'"}],"mark":{"type":"rule","color":"black","strokeWidth":2},"encoding":{"x2":{"field":"x2"}}}
  ]}
]
}
